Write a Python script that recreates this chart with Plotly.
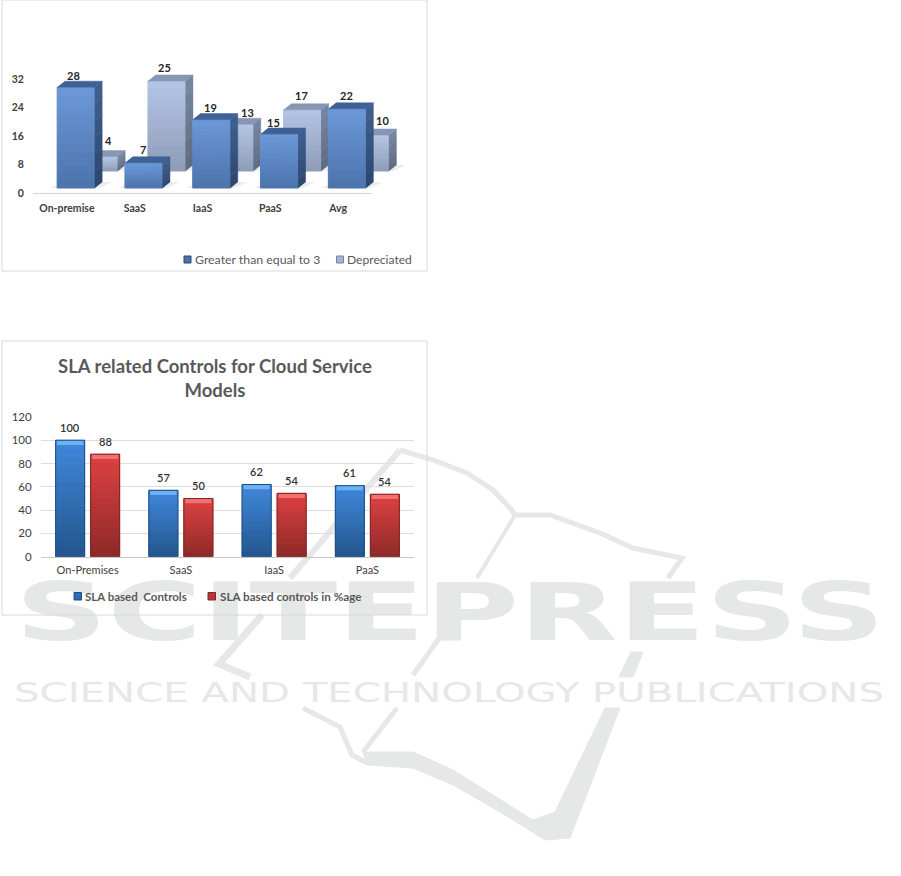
import plotly.graph_objects as go

# ---------- data ----------
top_categories = ["On-premise", "SaaS", "IaaS", "PaaS", "Avg"]
greater_equal_3 = [28, 7, 19, 15, 22]
depreciated = [4, 25, 13, 17, 10]
top_ticks = [0, 8, 16, 24, 32]

sla_categories = ["On-Premises", "SaaS", "IaaS", "PaaS"]
sla_controls = [100, 57, 62, 61]
sla_percent = [88, 50, 54.4, 53.6]
sla_ticks = [0, 20, 40, 60, 80, 100, 120]

# ---------- page geometry ----------
W, H = 901, 876
def fx(p): return p / W
def fy(p): return 1 - p / H
FONT = "Lato, Carlito, Calibri, sans-serif"
INK = "#404040"
WM = "#e6e7e7"


def lerp(c1, c2, t):
    a = [int(c1[i:i + 2], 16) for i in (1, 3, 5)]
    b = [int(c2[i:i + 2], 16) for i in (1, 3, 5)]
    return "#%02x%02x%02x" % tuple(round(a[i] + (b[i] - a[i]) * t) for i in range(3))


fig = go.Figure()
layout = {}


def add_axes(n, px_left, px_right, py_bottom, py_top, xr, yr, visible=False, **kw):
    sx = "" if n == 1 else str(n)
    layout["xaxis" + sx] = dict(domain=[fx(px_left), fx(px_right)], range=xr, anchor="y" + sx,
                                visible=visible, showgrid=False, zeroline=False, fixedrange=True,
                                **kw.get("x", {}))
    layout["yaxis" + sx] = dict(domain=[fy(py_bottom), fy(py_top)], range=yr, anchor="x" + sx,
                                visible=visible, showgrid=False, zeroline=False, fixedrange=True,
                                **kw.get("y", {}))
    return "x" + sx, "y" + sx


# ---------- publisher watermark, lowest layer ----------
WATERMARK_LENGTHS = {"SCITEPRESS": 870, "SCIENCE AND TECHNOLOGY PUBLICATIONS": 870}
px_, py_ = add_axes(1, 0, W, H, 0, [0, W], [H, 0])
fig.add_trace(go.Scatter(x=[450], y=[620], text=["SCITEPRESS"], mode="text", xaxis=px_, yaxis=py_,
                         textposition="middle center", showlegend=False, hoverinfo="skip",
                         textfont=dict(family="DejaVu Sans", size=80, color=WM, weight=700)))
fig.add_trace(go.Scatter(x=[449], y=[695], text=["SCIENCE AND TECHNOLOGY PUBLICATIONS"], mode="text",
                         xaxis=px_, yaxis=py_, textposition="middle center", showlegend=False, hoverinfo="skip",
                         textfont=dict(family="DejaVu Sans", size=26, color=WM)))

# ---------- upper chart: pseudo-3D columns ----------
UNIT_X = 67.8
UNIT_Y = 3.6
DX = 7.5 / UNIT_X
DY = 6 / UNIT_Y
BAR_W = 37.5 / UNIT_X
YR = [-2, 30]
idx = list(range(len(top_categories)))

tick_font = dict(family=FONT, size=10.5, color=INK, weight=700)
ax, ay = add_axes(2, 33, 372, 193, 79, [-0.5, 4.5], [0, 32], visible=True,
                  x=dict(tickvals=idx, ticktext=top_categories, tickfont=tick_font, showline=True,
                         linecolor="#d4d4d4", linewidth=1, ticks="outside", ticklen=5,
                         tickcolor="rgba(0,0,0,0)"),
                  y=dict(tickvals=top_ticks, tickfont=tick_font, showline=False, ticks="outside",
                         ticklen=6, tickcolor="rgba(0,0,0,0)"))
fig.add_trace(go.Scatter(x=idx, y=[0] * 5, xaxis=ax, yaxis=ay, mode="none", showlegend=False, hoverinfo="skip"))


def row_axes(n, shift_x, base_py):
    return add_axes(n, 33 + shift_x, 372 + shift_x, base_py + 2 * UNIT_Y, base_py - 30 * UNIT_Y,
                    [-0.5, 4.5], YR)


def shadow(values, axes):
    xs, ys = [], []
    for i in idx:
        x0, x1 = i - BAR_W / 2, i + BAR_W / 2
        xs += [x0 - 6.5 / UNIT_X, x1 + 5 / UNIT_X, x1 + 17 / UNIT_X, x0 + DX, None]
        ys += [0, 0, DY, DY, None]
    fig.add_trace(go.Scatter(x=xs, y=ys, xaxis=axes[0], yaxis=axes[1], mode="lines", fill="toself",
                             fillcolor="#ececec", line=dict(width=0), showlegend=False, hoverinfo="skip"))


def columns(values, axes, name, face, side, top, n_face=14, n_side=6):
    for k in range(n_face):
        c = lerp(face[0], face[1], k / (n_face - 1))
        fig.add_trace(go.Bar(x=idx, base=[v * k / n_face for v in values], y=[v / n_face for v in values],
                             width=BAR_W, xaxis=axes[0], yaxis=axes[1], name=name, showlegend=False,
                             marker=dict(color=c, line=dict(width=1, color=c)), hoverinfo="skip"))
    for k in range(n_side):
        xs, ys = [], []
        for i, v in zip(idx, values):
            x1 = i + BAR_W / 2
            lo, hi = v * k / n_side, v * (k + 1) / n_side
            xs += [x1, x1 + DX, x1 + DX, x1, None]
            ys += [lo, lo + DY, hi + DY, hi, None]
        c = lerp(side[0], side[1], k / (n_side - 1))
        fig.add_trace(go.Scatter(x=xs, y=ys, xaxis=axes[0], yaxis=axes[1], mode="lines", fill="toself",
                                 fillcolor=c, line=dict(width=0.5, color=c), showlegend=False, hoverinfo="skip"))
    xs, ys = [], []
    for i, v in zip(idx, values):
        x0, x1 = i - BAR_W / 2, i + BAR_W / 2
        xs += [x0, x1, x1 + DX, x0 + DX, None]
        ys += [v, v, v + DY, v + DY, None]
    fig.add_trace(go.Scatter(x=xs, y=ys, xaxis=axes[0], yaxis=axes[1], mode="lines", fill="toself",
                             fillcolor=top, line=dict(width=0.5, color=top), showlegend=False, hoverinfo="skip"))


back_shadow = row_axes(3, 32, 171)
back_axes = row_axes(4, 32, 171)
front_shadow = row_axes(5, 9, 188)
front_axes = row_axes(6, 9, 188)
shadow(depreciated, back_shadow)
columns(depreciated, back_axes, "Depreciated", ("#8f9db8", "#b2c4e4"), ("#5f6c82", "#76859f"), "#8797b3")
shadow(greater_equal_3, front_shadow)
columns(greater_equal_3, front_axes, "Greater than equal to 3", ("#4d74ad", "#6b97d6"), ("#2e4971", "#3e5e8e"), "#3f6196")

annotations = []
label_font = dict(family=FONT, size=11, color="#262626", weight=700)
for vals, axes, nudge, lift in (
    (greater_equal_3, front_axes, [-2, -1, -1, -6, -1], [12, 13, 12, 12, 13]),
    (depreciated, back_axes, [10, -2, 13, -1, 12], [16, 13, 12, 14, 14]),
):
    for i, v in enumerate(vals):
        annotations.append(dict(text=str(v), x=i, y=v, xref=axes[0], yref=axes[1], showarrow=False,
                                xshift=nudge[i], yshift=lift[i], yanchor="middle", font=label_font))

# ---------- lower chart: bevelled 2-D columns ----------
BW2 = 29 / 93.25
OFF = 17.5 / 93.25
idx2 = list(range(len(sla_categories)))
xtick2 = dict(family=FONT, size=11, color=INK)
ytick2 = dict(family=FONT, size=11.5, color=INK)
bx, by = add_axes(7, 41, 414, 556.7, 417, [-0.5, 3.5], [0, 120], visible=True,
                  x=dict(tickvals=idx2, ticktext=sla_categories, tickfont=xtick2, showline=True,
                         linecolor="#c8c8c8", linewidth=1, ticks="outside", ticklen=3,
                         tickcolor="rgba(0,0,0,0)"),
                  y=dict(tickvals=sla_ticks, tickfont=ytick2, ticks="outside", ticklen=6,
                         tickcolor="rgba(0,0,0,0)"))
layout["yaxis7"].update(showgrid=True, gridcolor="#dedede", gridwidth=1)


def bevel(values, xpos, name, low, high, edge, strip, n=14):
    for k in range(n):
        c = lerp(low, high, k / (n - 1))
        fig.add_trace(go.Bar(x=xpos, base=[v * k / n for v in values], y=[v / n for v in values], width=BW2,
                             xaxis=bx, yaxis=by, name=name, showlegend=False,
                             marker=dict(color=c, line=dict(width=1, color=c)), hoverinfo="skip"))
    fig.add_trace(go.Bar(x=xpos, base=[v - 4 for v in values], y=[4] * len(values), width=BW2 - 0.03,
                         xaxis=bx, yaxis=by, showlegend=False, marker=dict(color=strip, line=dict(width=0)),
                         hoverinfo="skip"))
    fig.add_trace(go.Bar(x=xpos, y=values, width=BW2, xaxis=bx, yaxis=by, name=name, showlegend=False,
                         marker=dict(color="rgba(0,0,0,0)", line=dict(width=1, color=edge)),
                         hovertemplate=name + ": %{y}<extra></extra>"))


x_blue = [i - OFF for i in idx2]
x_red = [i + OFF for i in idx2]
bevel(sla_controls, x_blue, "SLA based  Controls", "#24578f", "#3f86d8", "#1d4f86", "#6db1f2")
bevel(sla_percent, x_red, "SLA based controls in %age", "#8f2a2a", "#dc4040", "#7e2626", "#f0716e")

label2 = dict(family=FONT, size=11, color="#333333", weight=600)
for vals, xs in ((sla_controls, x_blue), (sla_percent, x_red)):
    for x, v in zip(xs, vals):
        annotations.append(dict(text=str(round(v)), x=x, y=v, xref=bx, yref=by, showarrow=False,
                                yshift=13, yanchor="middle", font=label2))

# ---------- hand-placed legends ----------
def legend_text(text, px, py, size, weight):
    annotations.append(dict(text=text, xref="paper", yref="paper", x=fx(px), y=fy(py), xanchor="left",
                            yanchor="middle", showarrow=False,
                            font=dict(family=FONT, size=size, color="#595959", weight=weight)))


legend_text("Greater than equal to 3", 192.5, 259.5, 12.3, 400)
legend_text("Depreciated", 345, 259.5, 12.1, 400)
legend_text("SLA based&nbsp;&nbsp;Controls", 83, 596, 11.5, 700)
legend_text("SLA based controls in %age", 218, 596, 11.7, 700)

# ---------- frames, swatches and background logo ----------
def rect(x0, y0, x1, y1, fill=None, line="#d9d9d9", layer="above"):
    return dict(type="rect", xref="paper", yref="paper", x0=fx(x0), x1=fx(x1), y0=fy(y0), y1=fy(y1),
                line=dict(color=line, width=1), fillcolor=fill or "rgba(0,0,0,0)", layer=layer)


def path(points, width=5, closed=False):
    d = "M" + " L".join(f"{fx(a):.5f},{fy(b):.5f}" for a, b in points) + (" Z" if closed else "")
    return dict(type="path", path=d, xref="paper", yref="paper", layer="below",
                line=dict(color=WM, width=width), fillcolor=WM if closed else "rgba(0,0,0,0)")


shapes = [
    path([(400, 450), (433, 460), (467, 473), (493, 490), (510, 508), (515, 515)], 5),
    path([(515, 515), (550, 515), (600, 533), (633, 548), (682, 558), (668, 578)], 5),
    path([(400, 450), (290, 578)], 6),
    path([(262, 615), (219, 664), (250, 677)], 7),
    path([(515, 515), (477, 578)], 4),
    path([(445, 630), (413, 675)], 5),
    path([(397, 708), (363, 752)], 5),
    path([(303, 708), (340, 727), (352, 755), (367, 763)], 5),
    path([(363, 752), (413, 752), (453, 770), (493, 795), (533, 820), (555, 812), (605, 708), (620, 708),
          (570, 838), (545, 840), (500, 812), (453, 785), (413, 768), (367, 765)], 1, True),
    path([(631, 652), (643, 652), (633, 677), (619, 677)], 1, True),
    rect(2, 0, 427, 271),
    rect(2, 341, 427, 615),
    rect(184, 256, 191, 263, "#4a74ad", "#2e4971"),
    rect(336.5, 256, 343.5, 263, "#a4b4d4", "#76859f"),
    rect(74, 592.5, 81.5, 600, "#2f6bb0", "#1d4f86"),
    rect(208, 592.5, 215.5, 600, "#b83636", "#7e2626"),
]

fig.update_layout(
    width=W, height=H, margin=dict(l=0, r=0, t=0, b=0, autoexpand=False), paper_bgcolor="white",
    plot_bgcolor="rgba(0,0,0,0)", barmode="overlay", showlegend=False,
    font=dict(family=FONT),
    title=dict(text="SLA related Controls for Cloud Service<br>Models", xref="paper", yref="paper",
               x=fx(215), y=fy(373), xanchor="center", yanchor="middle",
               font=dict(family=FONT, size=18.5, color="#595959", weight=700)),
    annotations=annotations, shapes=shapes, **layout,
)

post = """
var WM = %s;
document.querySelectorAll('.textpoint text').forEach(function(t){
  var w = WM[t.textContent];
  if (w) { t.setAttribute('textLength', w); t.setAttribute('lengthAdjust', 'spacingAndGlyphs'); }
});
document.body.style.margin = '0';
""" % (str(WATERMARK_LENGTHS).replace("'", '"'))
fig.write_html("out.html", post_script=post, config=dict(displayModeBar=False))
